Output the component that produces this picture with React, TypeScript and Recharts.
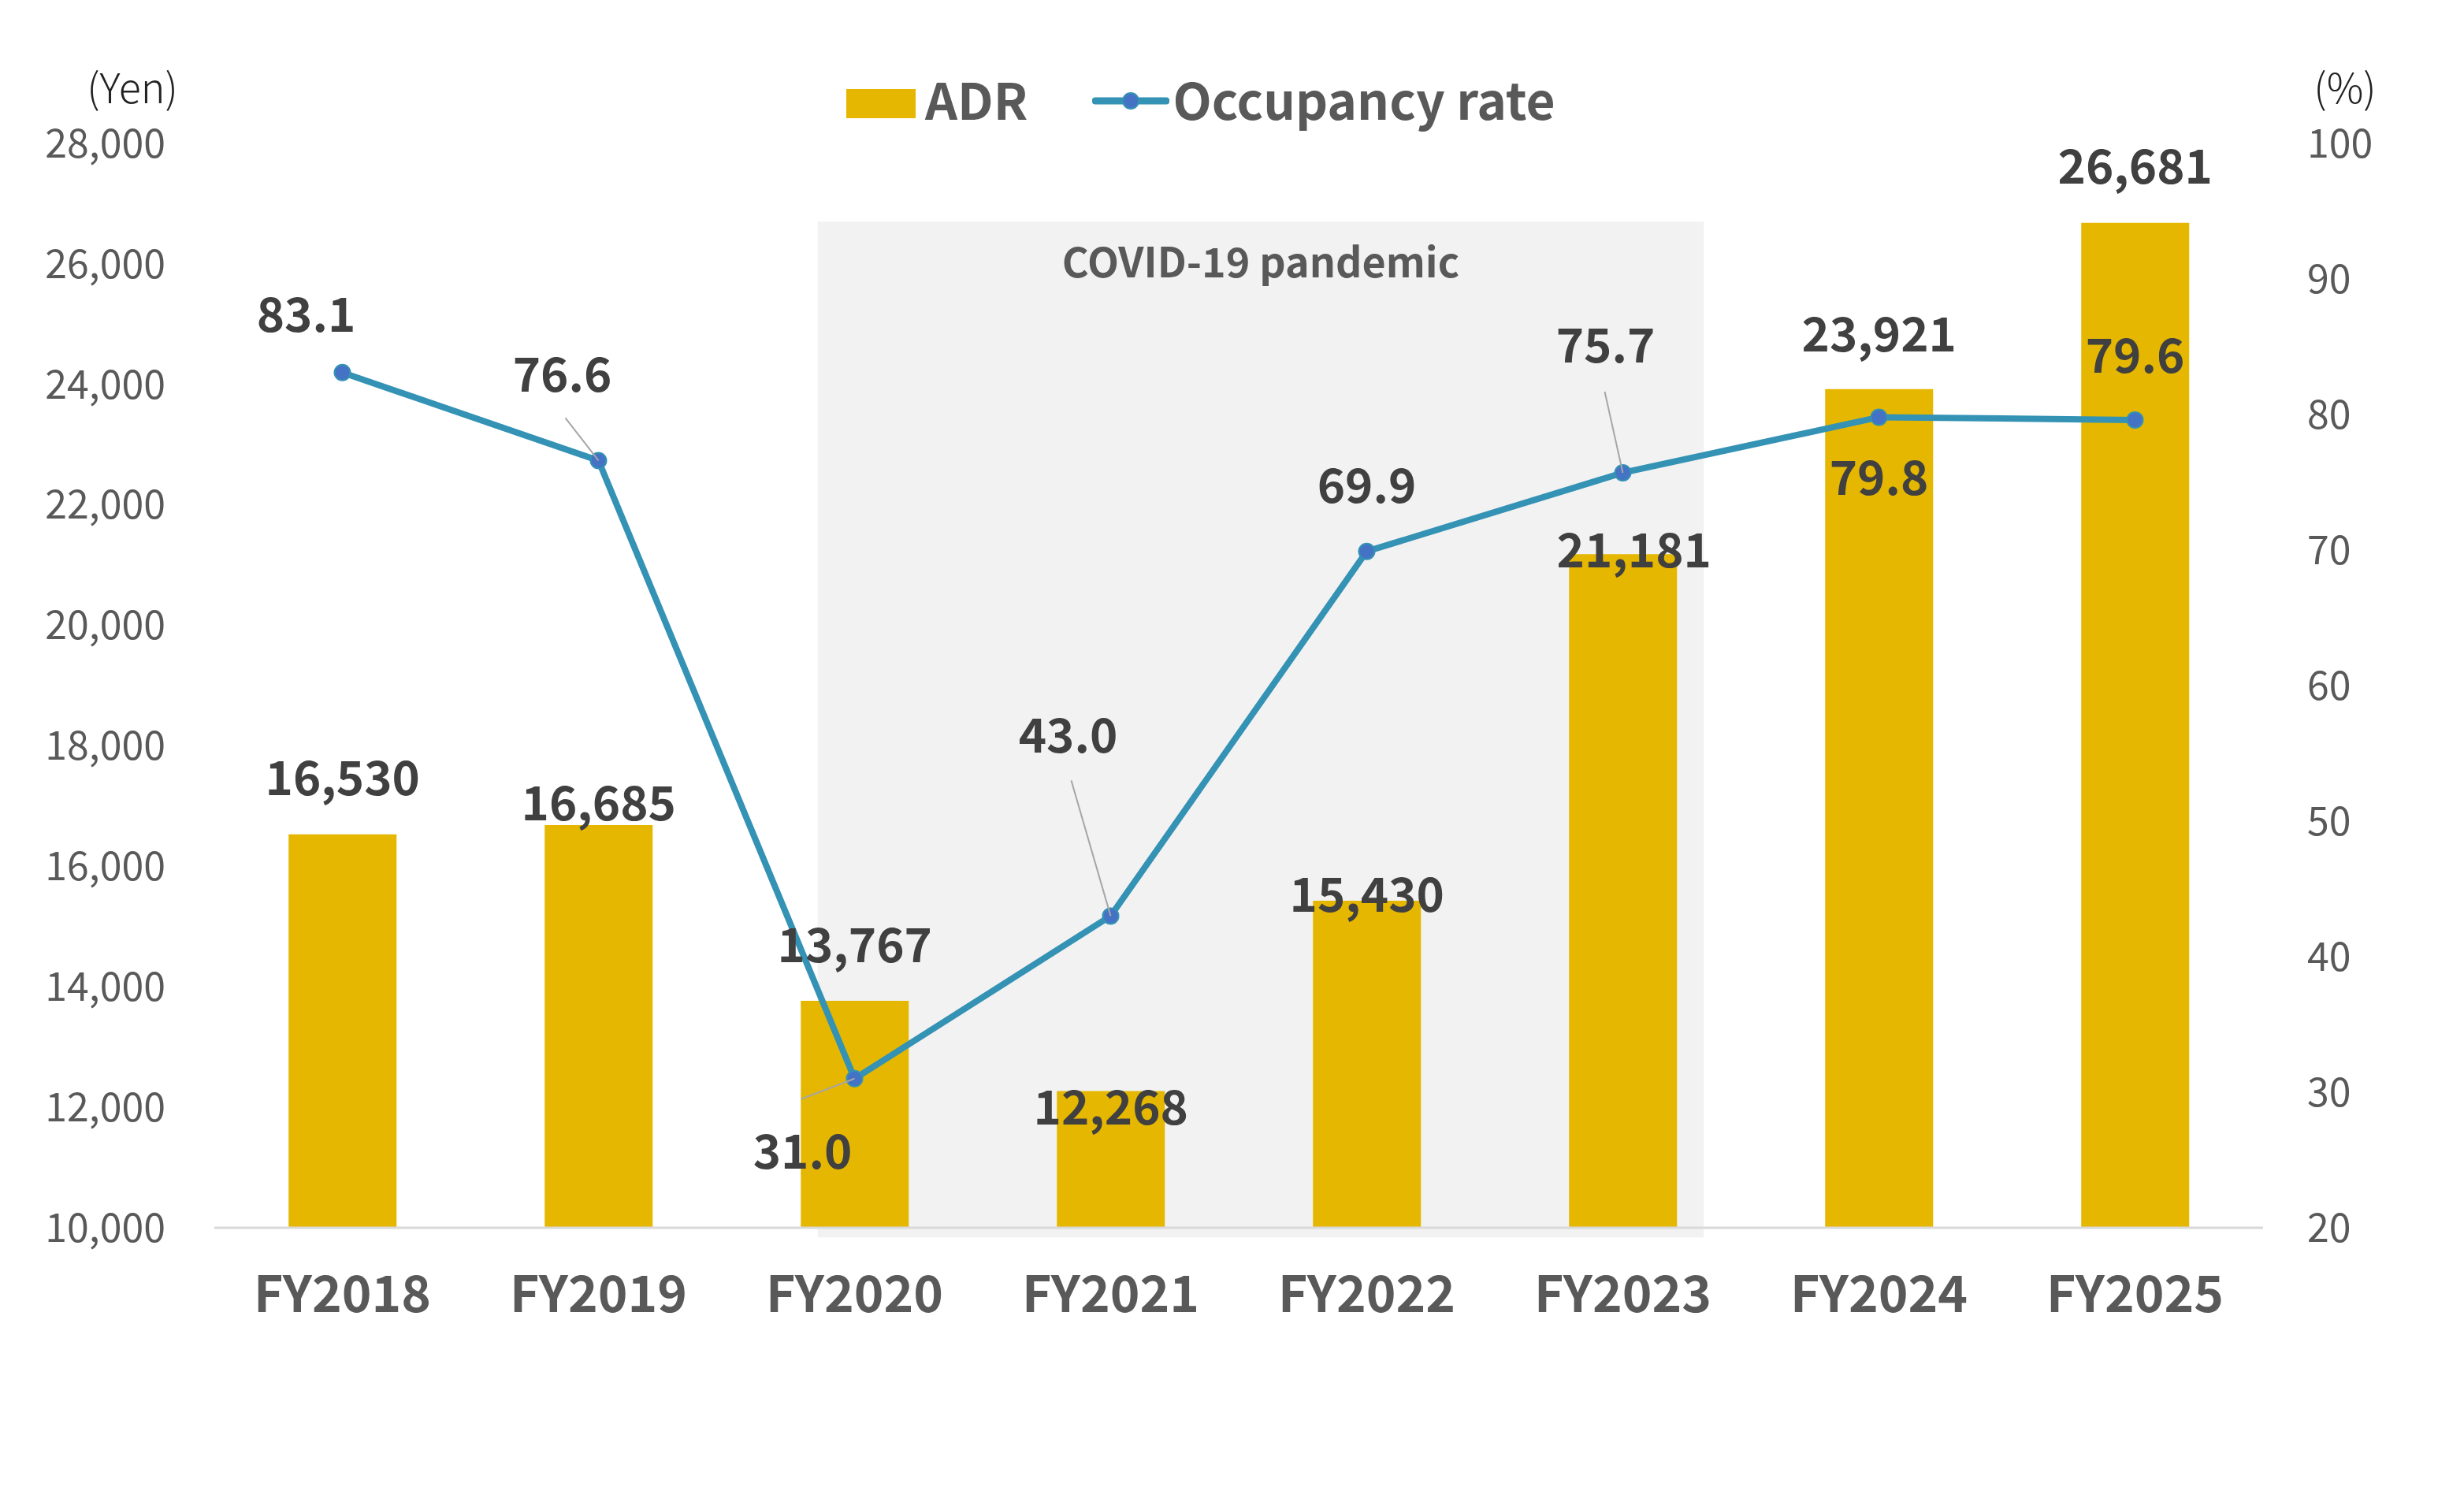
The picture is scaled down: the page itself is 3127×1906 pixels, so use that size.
import React from 'react';
import { ComposedChart, Bar, Line, XAxis, YAxis, ReferenceArea, LabelList } from 'recharts';

const categories = ['FY2018', 'FY2019', 'FY2020', 'FY2021', 'FY2022', 'FY2023', 'FY2024', 'FY2025'];
const adrValues = [16530, 16685, 13767, 12268, 15430, 21181, 23921, 26681];
const occupancyValues = [83.1, 76.6, 31.0, 43.0, 69.9, 75.7, 79.8, 79.6];
const yenTicks = [10000, 12000, 14000, 16000, 18000, 20000, 22000, 24000, 26000, 28000];
const pctTicks = [20, 30, 40, 50, 60, 70, 80, 90, 100];
const covidRange = ['FY2020', 'FY2023'];
const covidLabel = 'COVID-19 pandemic';

// label placement (px), hand tuned to match the Excel layout
const adrLabelShift = [[0, -76], [0, -32], [0, -76], [0, 16], [0, -12], [14, -10], [0, -74], [0, -76]];
const occLabelShift = [[-46, -78], [-46, -114], [-66, 88], [-54, -234], [0, -88], [-22, -166], [0, 72], [0, -86]];
const occLeaderFrom: (number[] | null)[] = [null, [-42, -54], [-68, 26], [-50, -172], null, [-23, -103], null, null];

const data = categories.map((name, i) => ({
  name,
  adr: adrValues[i],
  occupancy: occupancyValues[i],
}));

const FONT = "'Noto Sans CJK JP', 'Noto Sans', sans-serif";
const GOLD = '#E5B700';
const TEAL = '#3492B5';
const DOT = '#4472C4';
const GREY = '#595959';
const DARK = '#404040';

function AdrLabel(props: any) {
  const { x, y, width, value, index } = props;
  const [dx, dy] = adrLabelShift[index] ?? [0, -40];
  return (
    <text
      x={x + width / 2 + dx}
      y={y + dy}
      textAnchor="middle"
      dominantBaseline="central"
      fontFamily={FONT}
      fontWeight={700}
      fontSize={60}
      fill={DARK}
    >
      {Number(value).toLocaleString('en-US')}
    </text>
  );
}

function OccLabel(props: any) {
  const { x, y, value, index } = props;
  const [dx, dy] = occLabelShift[index] ?? [0, -40];
  const lead = occLeaderFrom[index];
  return (
    <g>
      {lead && (
        <line x1={x + lead[0]} y1={y + lead[1]} x2={x} y2={y} stroke="#A6A6A6" strokeWidth={2} />
      )}
      <text
        x={x + dx}
        y={y + dy}
        textAnchor="middle"
        dominantBaseline="central"
        fontFamily={FONT}
        fontWeight={700}
        fontSize={60}
        fill={DARK}
      >
        {Number(value).toFixed(1)}
      </text>
    </g>
  );
}

function CovidBand(props: any) {
  const { x, y, width, height } = props;
  const band = width / 4;
  const left = x + band * 0.356;
  const w = width - band * 0.356 - band * 0.184;
  return (
    <g>
      <rect x={left} y={y} width={w} height={height} fill="#F2F2F2" />
      <text
        x={left + w / 2}
        y={y + 48}
        textAnchor="middle"
        dominantBaseline="central"
        fontFamily={FONT}
        fontWeight={700}
        fontSize={52}
        fill={GREY}
      >
        {covidLabel}
      </text>
    </g>
  );
}

export default function App() {
  return (
    <div
      style={{
        position: 'absolute',
        left: 0,
        top: 0,
        width: 3127,
        height: 1906,
        background: '#fff',
        fontFamily: FONT,
      }}
    >
      <div style={{ position: 'absolute', left: 168, top: 108, transform: 'translate(-50%, -50%)', fontSize: 52, fontWeight: 300, color: '#222' }}>
        (Yen)
      </div>
      <div style={{ position: 'absolute', left: 2976, top: 108, transform: 'translate(-50%, -50%)', fontSize: 52, fontWeight: 300, color: '#222' }}>
        (%)
      </div>

      {/* legend */}
      <div
        style={{
          position: 'absolute',
          left: 1074,
          top: 88,
          height: 72,
          display: 'flex',
          alignItems: 'center',
          fontSize: 64,
          fontWeight: 700,
          color: GREY,
          whiteSpace: 'nowrap',
        }}
      >
        <span style={{ width: 88, height: 37, background: GOLD, display: 'inline-block', marginTop: 14 }} />
        <span style={{ marginLeft: 12 }}>ADR</span>
        <svg width={98} height={30} style={{ marginLeft: 82, marginTop: 8 }}>
          <line x1={4} y1={15} x2={94} y2={15} stroke={TEAL} strokeWidth={9} strokeLinecap="round" />
          <circle cx={49} cy={15} r={10} fill={DOT} stroke={TEAL} strokeWidth={2} />
        </svg>
        <span style={{ marginLeft: 4 }}>Occupancy rate</span>
      </div>

      <ComposedChart
        width={3127}
        height={1906}
        data={data}
        margin={{ top: 182, right: 55, bottom: 228, left: 72 }}
        barCategoryGap="29%"
      >
        <XAxis
          dataKey="name"
          height={120}
          tickLine={false}
          tickSize={0}
          tickMargin={62}
          axisLine={{ stroke: '#D9D9D9', strokeWidth: 3 }}
          tick={{ fontSize: 64, fontWeight: 700, fill: GREY, fontFamily: FONT }}
        />
        <YAxis
          yAxisId="left"
          orientation="left"
          width={200}
          domain={[10000, 28000]}
          ticks={yenTicks}
          allowDataOverflow
          tickLine={false}
          axisLine={false}
          tickSize={0}
          tickMargin={62}
          tickFormatter={(v: number) => v.toLocaleString('en-US')}
          tick={{ fontSize: 50, fill: GREY, fontFamily: FONT }}
        />
        <YAxis
          yAxisId="right"
          orientation="right"
          width={200}
          domain={[20, 100]}
          ticks={pctTicks}
          tickLine={false}
          axisLine={false}
          tickSize={0}
          tickMargin={56}
          tick={{ fontSize: 50, fill: GREY, fontFamily: FONT, textAnchor: 'start' }}
        />
        <ReferenceArea
          yAxisId="left"
          x1={covidRange[0]}
          x2={covidRange[1]}
          y1={26700}
          y2={9840}
          ifOverflow="visible"
          shape={CovidBand}
        />
        <Bar yAxisId="left" dataKey="adr" name="ADR" fill={GOLD} isAnimationActive={false}>
          <LabelList dataKey="adr" content={AdrLabel} />
        </Bar>
        <Line
          yAxisId="right"
          dataKey="occupancy"
          name="Occupancy rate"
          stroke={TEAL}
          strokeWidth={8}
          dot={{ r: 10, fill: DOT, stroke: TEAL, strokeWidth: 2 }}
          activeDot={false}
          isAnimationActive={false}
        >
          <LabelList dataKey="occupancy" content={OccLabel} />
        </Line>
      </ComposedChart>
    </div>
  );
}
